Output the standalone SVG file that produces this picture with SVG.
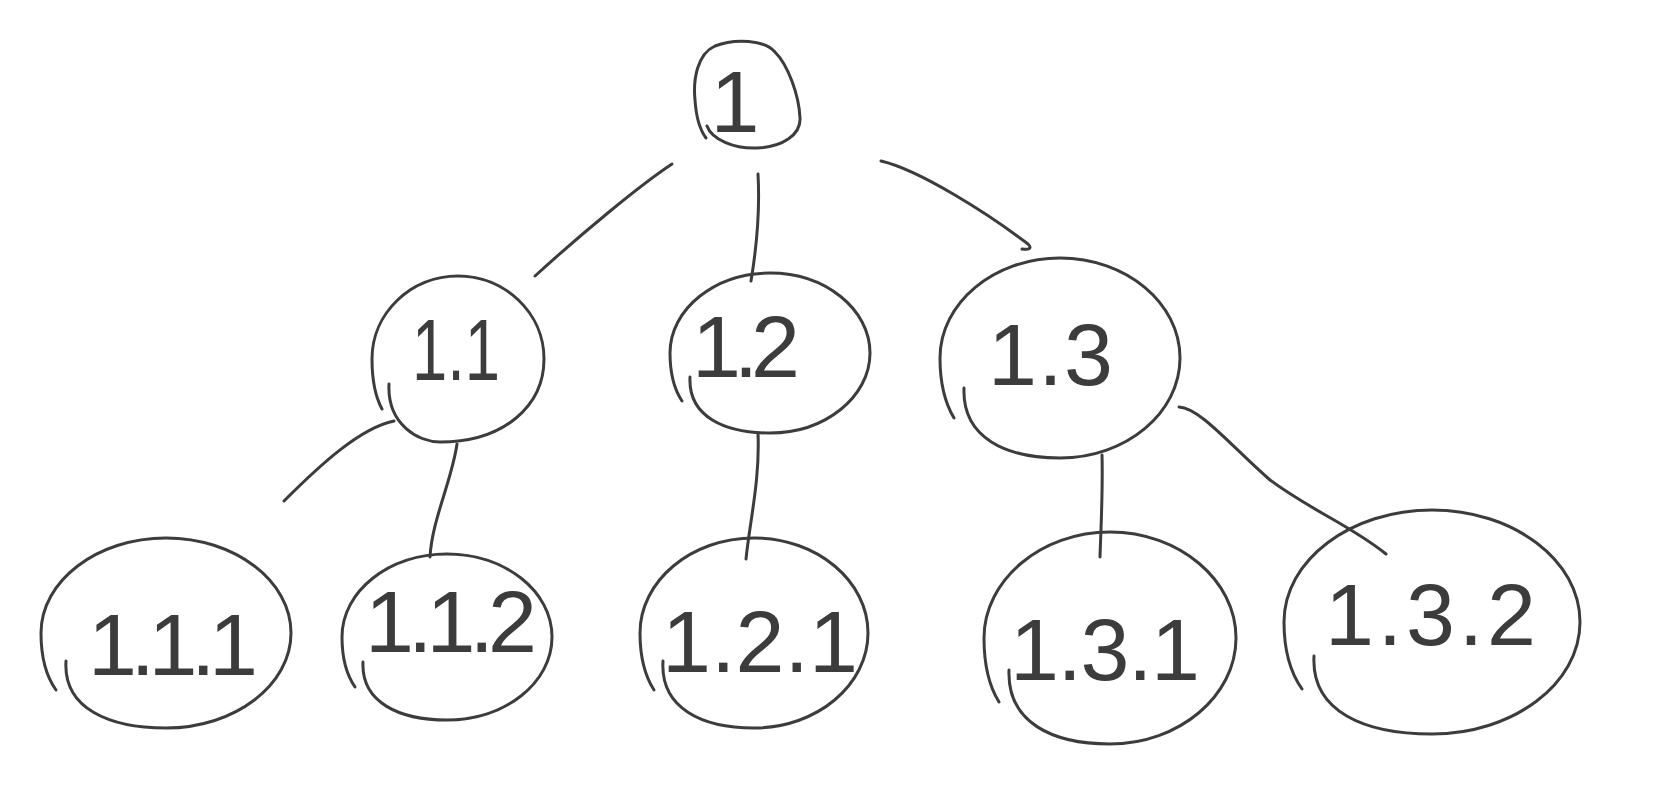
<svg xmlns="http://www.w3.org/2000/svg" width="1678" height="788" viewBox="0 0 1678 788">
<style>
.n{fill:none;stroke:#3c3c3c;stroke-width:3;stroke-linecap:round;stroke-linejoin:round}
.c{fill:none;stroke:#3c3c3c;stroke-width:3;stroke-linecap:round}
.t{font-family:"Liberation Sans",Arial,sans-serif;font-size:88px;fill:#3c3c3c;font-weight:normal}
</style>
<rect width="1678" height="788" fill="#ffffff"/>
<g id="connectors">
<path class="c" d="M672,164 C640,185 580,235 535,276"/>
<path class="c" d="M758,174 C760,210 757,245 751,281"/>
<path class="c" d="M881,161 C920,170 990,215 1028,244 C1032,248 1030,250 1022,249"/>
<path class="c" d="M394,421 C360,428 320,465 284,501"/>
<path class="c" d="M457,444 C452,480 432,520 430,557"/>
<path class="c" d="M758,433 C760,480 750,520 746,559"/>
<path class="c" d="M1102,455 C1103,490 1101,525 1100,557"/>
<path class="c" d="M1179,407 C1200,408 1230,445 1270,480 C1310,510 1350,525 1386,554"/>
</g>
<g id="node-1">
<path class="n" d="M707,126 C712,140 735,149 757,148 C782,147 801,135 800,118 C799,95 788,65 775,52 C765,40 735,38 715,46 C697,54 693,80 695,100 C696,115 700,130 706,138"/>
<text class="t" x="735" y="132" text-anchor="middle">1</text>
</g>
<g id="node-1.1">
<path class="n" d="M389,384 C387,425 419,442 440,442 C505,442 544,405 544,359 C544,313 505,276 458,276 C411,276 372,313 372,359 C372,380 375,396 382,409"/>
<text class="t" x="412" y="380" textLength="88" lengthAdjust="spacingAndGlyphs">1.1</text>
</g>
<g id="node-1.2">
<path class="n" d="M690,377 C688,417 725,433 770,433 C825,433 870,397 870,353 C870,309 825,273 770,273 C715,273 670,309 670,353 C670,373 674,389 682,401"/>
<text class="t" x="692" y="377" textLength="108" lengthAdjust="spacing">1.2</text>
</g>
<g id="node-1.3">
<path class="n" d="M964,388 C962,438 1006,458 1060,458 C1126,458 1180,413 1180,358 C1180,303 1126,258 1060,258 C994,258 940,303 940,358 C940,383 945,403 954,418"/>
<text class="t" x="988" y="385" textLength="125" lengthAdjust="spacing">1.3</text>
</g>
<g id="node-1.1.1">
<path class="n" d="M66,661 C63,709 110,728 166,728 C235,728 291,685 291,633 C291,581 235,538 166,538 C97,538 41,581 41,633 C41,657 46,676 56,690"/>
<text class="t" x="88" y="675" textLength="170" lengthAdjust="spacing">1.1.1</text>
</g>
<g id="node-1.1.2">
<path class="n" d="M363,662 C361,703 400,720 447,720 C505,720 552,683 552,637 C552,591 505,554 447,554 C389,554 342,591 342,637 C342,658 346,674 355,687"/>
<text class="t" x="365" y="652" textLength="172" lengthAdjust="spacing">1.1.2</text>
</g>
<g id="node-1.2.1">
<path class="n" d="M663,661 C660,709 703,728 754,728 C817,728 868,685 868,633 C868,581 817,538 754,538 C691,538 640,581 640,633 C640,657 645,676 654,690"/>
<text class="t" x="662" y="672" textLength="196" lengthAdjust="spacing">1.2.1</text>
</g>
<g id="node-1.3.1">
<path class="n" d="M1009,670 C1007,723 1053,744 1110,744 C1179,744 1236,696 1236,638 C1236,580 1179,532 1110,532 C1041,532 984,580 984,638 C984,665 989,686 999,702"/>
<text class="t" x="1010" y="680" textLength="190" lengthAdjust="spacing">1.3.1</text>
</g>
<g id="node-1.3.2">
<path class="n" d="M1314,656 C1311,712 1365,734 1432,734 C1513,734 1580,684 1580,622 C1580,560 1513,510 1432,510 C1351,510 1284,560 1284,622 C1284,650 1290,672 1302,689"/>
<text class="t" x="1325" y="645" textLength="211" lengthAdjust="spacing">1.3.2</text>
</g>
</svg>
